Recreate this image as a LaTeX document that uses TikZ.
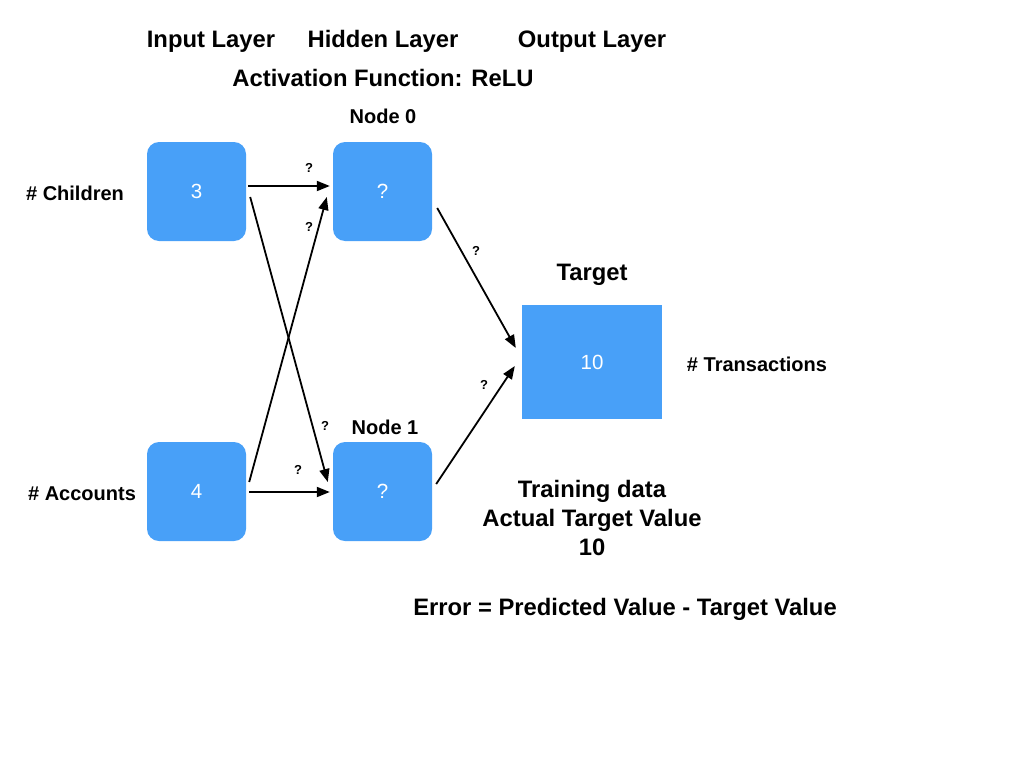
\documentclass[tikz,border=0pt]{standalone}
\usepackage{fontspec}
\setmainfont{Liberation Sans}
\usetikzlibrary{arrows.meta}
\definecolor{boxblue}{RGB}{72,160,248}
\tikzset{
  unitbox/.style={fill=boxblue, draw=none, rounded corners=12pt, minimum width=99pt, minimum height=99pt, inner sep=0pt, text=white, font=\fontsize{20.5}{24}\selectfont},
  targetbox/.style={fill=boxblue, draw=none, minimum width=140pt, minimum height=114pt, inner sep=0pt, text=white, font=\fontsize{20.5}{24}\selectfont},
  head/.style={font=\bfseries\fontsize{23.8}{28}\selectfont, inner sep=0pt, anchor=base},
  lab/.style={font=\bfseries\fontsize{20}{24}\selectfont, inner sep=0pt, anchor=base},
  wlab/.style={font=\bfseries\fontsize{13}{15}\selectfont, inner sep=0pt},
  conn/.style={line width=1.8pt, -{Triangle[length=13pt,width=10pt]}}
}
\begin{document}
\begin{tikzpicture}[x=1pt,y=-1pt]
\useasboundingbox (0,0) rectangle (1024,768);
% headings
\node[head] (hin) at (211,48) {Input Layer};
\node[head] (hhid) at (383,48) {Hidden Layer};
\node[head] (hout) at (592,48) {Output Layer};
\node[head] (act) at (383,86) {Activation Function: ReLU};
% boxes
\node[unitbox] (in3) at (196.5,191.5) {3};
\node[unitbox] (in4) at (196.5,491.5) {4};
\node[unitbox] (h0) at (382.5,191.5) {?};
\node[unitbox] (h1) at (382.5,491.5) {?};
\node[targetbox] (tg) at (592,362) {10};
% labels
\node[lab] (n0) at (383,123) {Node 0};
\node[lab] (n1) at (385,434) {Node 1};
\node[lab] (lch) at (75,200) {\# Children};
\node[lab] (lac) at (82,500) {\# Accounts};
\node[head] (ltg) at (592,280) {Target};
\node[lab] (ltr) at (757,371) {\# Transactions};
\node[head] (td1) at (592,497.5) {Training data};
\node[head] (td2) at (592,526.5) {Actual Target Value};
\node[head] (td3) at (592,555.5) {10};
\node[head] (err) at (625,615) {Error = Predicted Value - Target Value};
% connectors
\draw[conn] ([shift={(2,-5.5)}]in3.east) -- ([shift={(-3,-5.5)}]h0.west);
\draw[conn] ([shift={(3,-9.5)}]in4.east) -- ([shift={(-6,5.5)}]h0.west);
\draw[conn] ([shift={(4,5.5)}]in3.east) -- ([shift={(-5,-9.5)}]h1.west);
\draw[conn] ([shift={(3,0.5)}]in4.east) -- ([shift={(-3,0.5)}]h1.west);
\draw[conn] ([shift={(5,16.5)}]h0.east) -- ([shift={(-6,-14)}]tg.west);
\draw[conn] ([shift={(4,-7.5)}]h1.east) -- ([shift={(-7,4)}]tg.west);
% weight labels
\node[wlab] (w1) at (309,168) {?};
\node[wlab] (w2) at (309,227) {?};
\node[wlab] (w3) at (325,426) {?};
\node[wlab] (w4) at (298,470) {?};
\node[wlab] (w5) at (476,251) {?};
\node[wlab] (w6) at (484,385) {?};
\end{tikzpicture}
\end{document}
